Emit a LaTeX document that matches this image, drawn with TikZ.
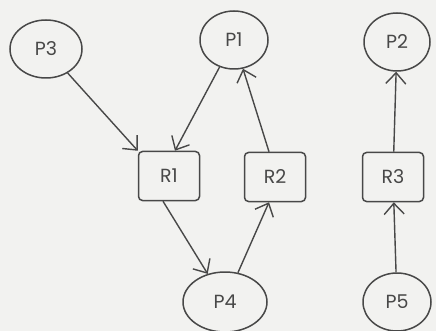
\documentclass[tikz,border=0pt]{standalone}
\usepackage{fontspec}
\setmainfont{Poppins}
\usetikzlibrary{shapes.geometric,arrows.meta}
\definecolor{ink}{HTML}{484848}
\definecolor{paper}{HTML}{F2F2F0}
\tikzset{
  proc/.style={ellipse, draw=ink, line width=1.5pt, minimum width=#1, minimum height=58pt, inner sep=0pt, font=\fontsize{19}{22}\selectfont, text=ink},
  proc/.default=68pt,
  res/.style={rectangle, rounded corners=4pt, draw=ink, line width=1.5pt, minimum width=61pt, minimum height=49pt, inner sep=0pt, font=\fontsize{19}{22}\selectfont, text=ink},
  edge/.style={draw=ink, line width=1.4pt, -{Straight Barb[length=11pt,width=20pt,line width=1.4pt]}}
}
\begin{document}
\begin{tikzpicture}[x=1pt,y=-1pt]
\fill[paper] (0,0) rectangle (436,331);
\useasboundingbox (0,0) rectangle (436,331);
\node[proc=72pt] (P3) at (46,49) {P3};
\node[proc] (P1) at (234,40) {P1};
\node[proc=66pt] (P2) at (397,42) {P2};
\node[res] (R1) at (169,176) {R1};
\node[res] (R2) at (275,177) {R2};
\node[res] (R3) at (393,177) {R3};
\node[proc=84pt, minimum height=60pt] (P4) at (225,302) {P4};
\node[proc=68pt] (P5) at (397,302) {P5};
\draw[edge] (P3) -- (R1.north west);
\draw[edge] (P1) -- ([xshift=6pt]R1.north);
\draw[edge] ([xshift=-6pt]R2.north) -- (P1);
\draw[edge] ([xshift=-6pt]R1.south) -- (P4);
\draw[edge] (P4) -- ([xshift=-6pt]R2.south);
\draw[edge] (P5) -- (R3);
\draw[edge] (R3) -- (P2);
\end{tikzpicture}
\end{document}
